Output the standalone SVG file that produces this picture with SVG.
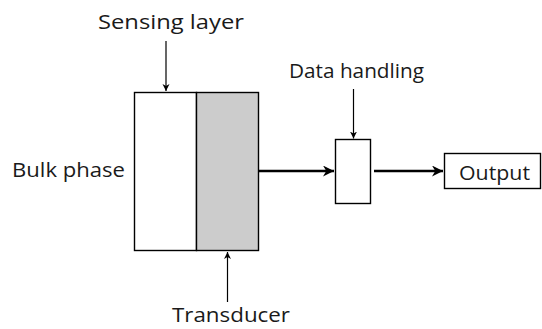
<svg xmlns="http://www.w3.org/2000/svg" width="542" height="329" viewBox="0 0 542 329">
<style>
.lbl{font-family:"Open Sans","Liberation Sans",sans-serif;font-size:20.5px;fill:#1a1a1a}
.box{stroke:#000;stroke-width:1.4}
.thin{stroke:#000;stroke-width:1.2;fill:none}
.thick{stroke:#000;stroke-width:2.6;fill:none}
</style>
<defs>
<marker id="ah" viewBox="0 0 10 10" refX="10" refY="5" markerWidth="7" markerHeight="10" markerUnits="userSpaceOnUse" orient="auto">
<path d="M0,0 L10,5 L0,10 L3,5 Z" fill="#000"/>
</marker>
<marker id="ahb" viewBox="0 0 10 10" refX="10" refY="5" markerWidth="18" markerHeight="11" markerUnits="userSpaceOnUse" orient="auto">
<path d="M0,0 L10,5 L0,10 L3,5 Z" fill="#000"/>
</marker>
</defs>
<rect width="542" height="329" fill="#fff"/>
<g id="sensor">
<rect class="box" x="134.5" y="92.5" width="62" height="158" fill="#fff"/>
<rect class="box" x="196.5" y="92.5" width="62" height="158" fill="#cccccc"/>
</g>
<g id="processor">
<rect class="box" x="335.5" y="139.5" width="35" height="64" fill="#fff"/>
</g>
<g id="output">
<rect class="box" x="444.5" y="153.5" width="96" height="35" fill="#fff"/>
<text class="lbl" x="459" y="180" textLength="71" lengthAdjust="spacingAndGlyphs">Output</text>
</g>
<g id="labels">
<text class="lbl" x="98" y="29" textLength="146" lengthAdjust="spacingAndGlyphs">Sensing layer</text>
<text class="lbl" x="289" y="78" textLength="135" lengthAdjust="spacingAndGlyphs">Data handling</text>
<text class="lbl" x="12" y="177" textLength="113" lengthAdjust="spacingAndGlyphs">Bulk phase</text>
<text class="lbl" x="172" y="322" textLength="118" lengthAdjust="spacingAndGlyphs">Transducer</text>
</g>
<g id="connectors">
<line class="thin" x1="166" y1="41" x2="166" y2="91" marker-end="url(#ah)"/>
<line class="thin" x1="227.5" y1="302" x2="227.5" y2="252" marker-end="url(#ah)"/>
<line class="thin" x1="353.5" y1="89" x2="353.5" y2="138.5" marker-end="url(#ah)"/>
<line class="thick" x1="259" y1="171" x2="334" y2="171" marker-end="url(#ahb)"/>
<line class="thick" x1="374" y1="171" x2="443" y2="171" marker-end="url(#ahb)"/>
</g>
</svg>
